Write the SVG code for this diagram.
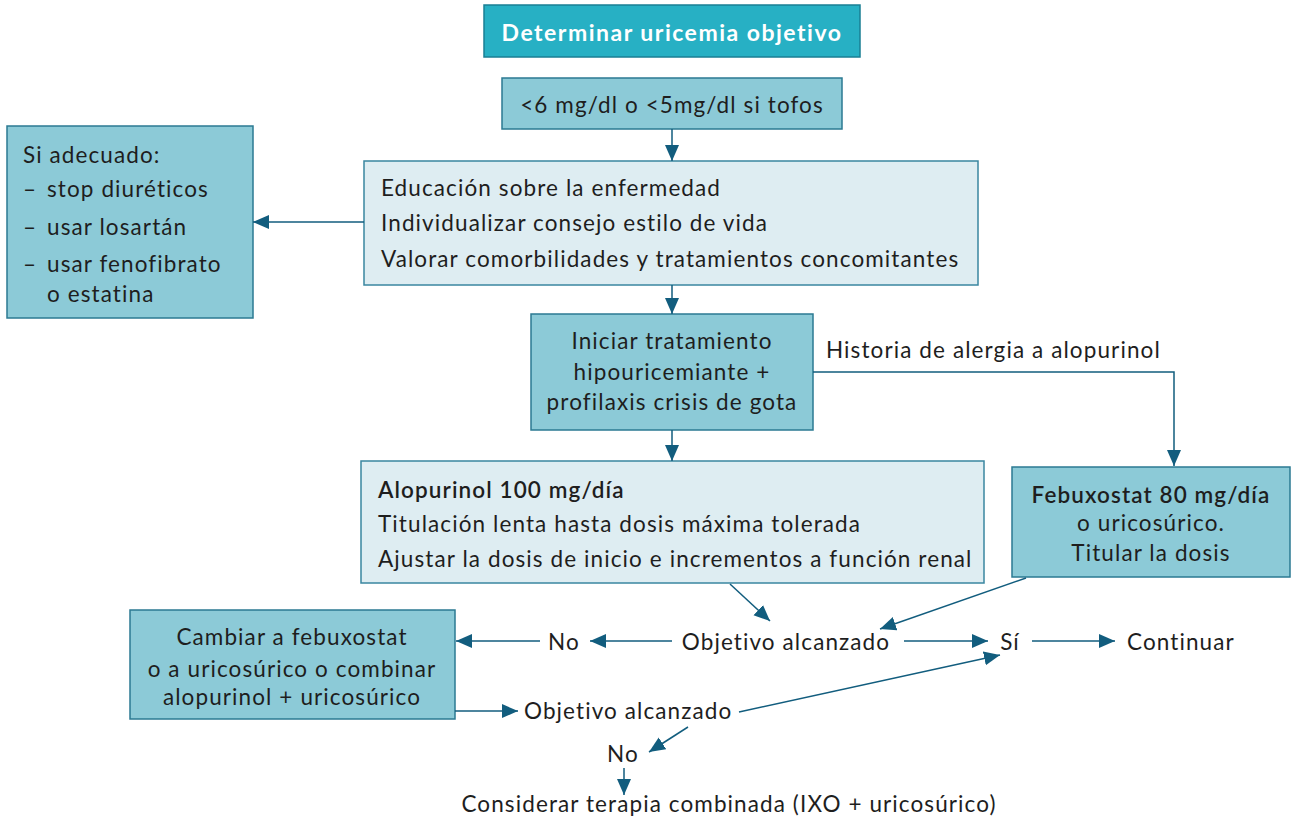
<svg xmlns="http://www.w3.org/2000/svg" width="1292" height="823" viewBox="0 0 1292 823">
<defs>
<style>
.t{font-family:Lato,"Noto Sans","Liberation Sans",sans-serif;font-size:22.5px;letter-spacing:1.1px;fill:#1e1e1e}
.c{text-anchor:middle}
.b{font-weight:bold}
.hd{fill:#27b0c4;stroke:#1a7f94;stroke-width:1.5}
.md{fill:#8ccad7;stroke:#2b7a92;stroke-width:1.5}
.lt{fill:#deedf2;stroke:#3a86a0;stroke-width:1.5}
.ln{fill:none;stroke:#125d7e;stroke-width:1.5}
.ar{marker-end:url(#ah)}
</style>
<marker id="ah" markerUnits="userSpaceOnUse" markerWidth="18" markerHeight="16" refX="16" refY="7" orient="auto">
<path d="M0,0 L16,7 L0,14 Z" fill="#125d7e"/>
</marker>
</defs>
<rect width="1292" height="823" fill="#fff"/>

<g id="n-header">
<rect class="hd" x="484" y="5" width="376" height="52"/>
<text class="t c b" x="672" y="41" style="fill:#fff;font-size:23px;letter-spacing:1.5px">Determinar uricemia objetivo</text>
</g>
<g id="n-target">
<rect class="md" x="502" y="78" width="340" height="51"/>
<text class="t c" x="672" y="113">&lt;6 mg/dl o &lt;5mg/dl si tofos</text>
</g>
<g id="n-educ">
<rect class="lt" x="364" y="161" width="614" height="124"/>
<text class="t" x="381" y="196">Educación sobre la enfermedad</text>
<text class="t" x="381" y="231">Individualizar consejo estilo de vida</text>
<text class="t" x="381" y="267">Valorar comorbilidades y tratamientos concomitantes</text>
</g>
<g id="n-adecuado">
<rect class="md" x="7" y="126" width="246" height="192"/>
<text class="t" x="23" y="163">Si adecuado:</text>
<text class="t" x="23" y="197">–</text><text class="t" x="47" y="197">stop diuréticos</text>
<text class="t" x="23" y="235">–</text><text class="t" x="47" y="235">usar losartán</text>
<text class="t" x="23" y="272">–</text><text class="t" x="47" y="272">usar fenofibrato</text>
<text class="t" x="47" y="302">o estatina</text>
</g>
<g id="n-iniciar">
<rect class="md" x="531" y="314" width="282" height="116"/>
<text class="t c" x="672" y="349">Iniciar tratamiento</text>
<text class="t c" x="672" y="380">hipouricemiante +</text>
<text class="t c" x="672" y="410">profilaxis crisis de gota</text>
</g>
<g id="n-alopurinol">
<rect class="lt" x="361" y="461" width="623" height="122"/>
<text class="t" x="378" y="498" style="font-weight:600">Alopurinol 100 mg/día</text>
<text class="t" x="378" y="532">Titulación lenta hasta dosis máxima tolerada</text>
<text class="t" x="378" y="567">Ajustar la dosis de inicio e incrementos a función renal</text>
</g>
<g id="n-febuxostat">
<rect class="md" x="1012" y="467" width="278" height="110"/>
<text class="t c" x="1151" y="503" style="font-weight:600">Febuxostat 80 mg/día</text>
<text class="t c" x="1151" y="531">o uricosúrico.</text>
<text class="t c" x="1151" y="561">Titular la dosis</text>
</g>
<g id="n-cambiar">
<rect class="md" x="130" y="610" width="325" height="109"/>
<text class="t c" x="292" y="645">Cambiar a febuxostat</text>
<text class="t c" x="292" y="677">o a uricosúrico o combinar</text>
<text class="t c" x="292" y="705">alopurinol + uricosúrico</text>
</g>
<g id="n-obj1"><text class="t c" x="786" y="650">Objetivo alcanzado</text></g>
<g id="n-no1"><text class="t c" x="564" y="650">No</text></g>
<g id="n-si"><text class="t c" x="1010" y="650">Sí</text></g>
<g id="n-continuar"><text class="t" x="1127" y="650">Continuar</text></g>
<g id="n-obj2"><text class="t" x="524" y="719">Objetivo alcanzado</text></g>
<g id="n-no2"><text class="t c" x="623" y="762">No</text></g>
<g id="n-considerar"><text class="t c" x="729" y="812">Considerar terapia combinada (IXO + uricosúrico)</text></g>

<g id="connectors">
<line class="ln ar" x1="672" y1="129" x2="672" y2="161"/>
<line class="ln ar" x1="364" y1="222" x2="253" y2="222"/>
<line class="ln ar" x1="672" y1="285" x2="672" y2="314"/>
<polyline class="ln ar" points="813,372 1174,372 1174,466"/>
<text class="t" x="826" y="358">Historia de alergia a alopurinol</text>
<line class="ln ar" x1="672" y1="430" x2="672" y2="461"/>
<line class="ln ar" x1="730" y1="584" x2="770" y2="621"/>
<line class="ln ar" x1="1026" y1="578" x2="880" y2="629"/>
<line class="ln ar" x1="672" y1="641" x2="590" y2="641"/>
<line class="ln ar" x1="540" y1="641" x2="456" y2="641"/>
<line class="ln ar" x1="904" y1="641" x2="988" y2="641"/>
<line class="ln ar" x1="1032" y1="641" x2="1115" y2="641"/>
<line class="ln ar" x1="455" y1="711" x2="518" y2="711"/>
<line class="ln ar" x1="739" y1="712" x2="1000" y2="655"/>
<line class="ln ar" x1="688" y1="727" x2="649" y2="752"/>
<line class="ln ar" x1="624" y1="768" x2="624" y2="795"/>
</g>
</svg>
